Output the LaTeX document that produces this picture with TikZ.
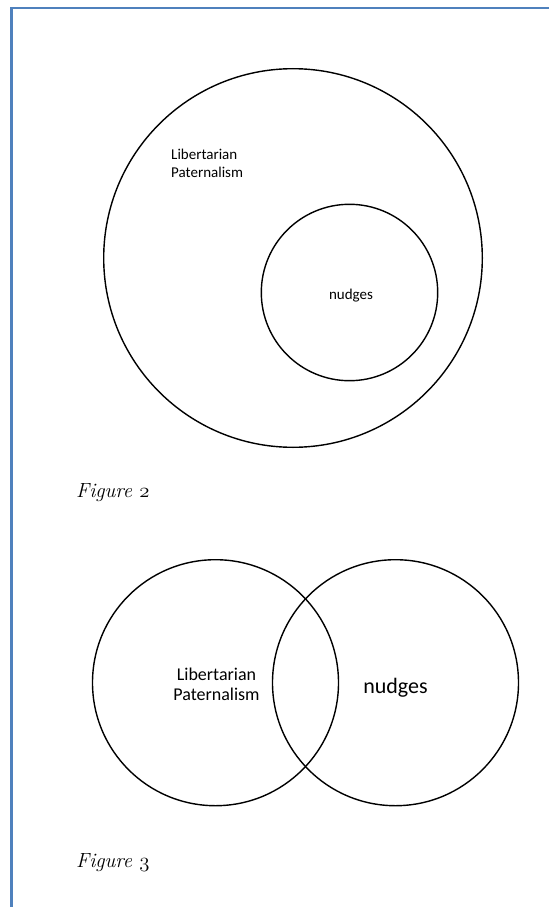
\documentclass[tikz,border=0pt]{standalone}
\usepackage{fontspec}
\newfontfamily\carlito{Carlito}
\newcommand\osnum[1]{{\usefont{OML}{cmm}{m}{it}#1}}
\definecolor{frameblue}{HTML}{4F81BD}
\begin{document}
\begin{tikzpicture}[x=1pt,y=-1pt,
  ring/.style={draw=black,line width=1.4pt},
  lbl/.style={inner sep=0pt,font=\carlito},
  figcap/.style={inner sep=0pt,anchor=base west,font=\fontsize{20.5}{24}\selectfont\itshape}]
\useasboundingbox (0,0) rectangle (549,907);
% frame (only top and left edges visible)
\draw[frameblue,line width=2.4pt] (549,7.8) -- (11.5,7.8) -- (11.5,907);
% Figure 2
\draw[ring] (293,258) circle[radius=189.3];
\draw[ring] (349.5,292.5) circle[radius=88.2];
\node[lbl,anchor=base west,font=\carlito\fontsize{15}{18}\selectfont] (lp1) at (171,159) {Libertarian};
\node[lbl,anchor=base west,font=\carlito\fontsize{15}{18}\selectfont] (lp2) at (171,177) {Paternalism};
\node[lbl,anchor=base,font=\carlito\fontsize{15}{18}\selectfont] (nd1) at (351,299) {nudges};
\node[figcap] (f2) at (76,497) {Figure \osnum{2}};
% Figure 3
\draw[ring] (215.5,682.7) circle[radius=123];
\draw[ring] (395.5,682.7) circle[radius=123];
\node[lbl,anchor=base,font=\carlito\fontsize{18}{20}\selectfont] (lp3) at (216.5,680) {Libertarian};
\node[lbl,anchor=base,font=\carlito\fontsize{18}{20}\selectfont] (lp4) at (216.5,700) {Paternalism};
\node[lbl,anchor=base,font=\carlito\fontsize{22}{26}\selectfont] (nd2) at (395.5,693) {nudges};
\node[figcap] (f3) at (76,867) {Figure \osnum{3}};
\end{tikzpicture}
\end{document}
